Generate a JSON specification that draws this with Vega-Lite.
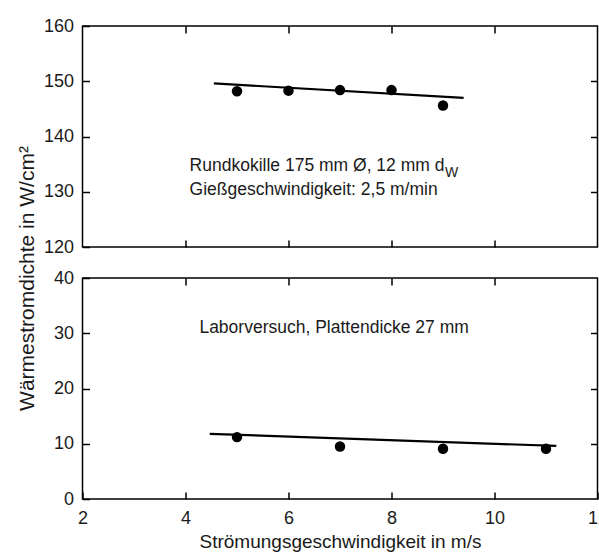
{
  "$schema": "https://vega.github.io/schema/vega-lite/v6.json",
  "padding": {"left": 14.5, "top": 16, "right": 0, "bottom": 5},
  "background": "white",
  "spacing": 31,
  "bounds": "flush",
  "datasets": {
    "topPoints": [
      {"v": 5, "q": 148.2},
      {"v": 6, "q": 148.3},
      {"v": 7, "q": 148.4},
      {"v": 8, "q": 148.4},
      {"v": 9, "q": 145.6}
    ],
    "topLine": [
      {"v": 4.55, "q": 149.6},
      {"v": 9.4, "q": 147.0}
    ],
    "topText": [
      {"v": 4.08, "q": 134.6, "t": "Rundkokille 175 mm Ø, 12 mm d"},
      {"v": 4.08, "q": 130.4, "t": "Gießgeschwindigkeit: 2,5 m/min"}
    ],
    "topSub": [
      {"v": 9.04, "q": 133.4, "t": "W"}
    ],
    "botPoints": [
      {"v": 5, "q": 11.2},
      {"v": 7, "q": 9.5},
      {"v": 9, "q": 9.1},
      {"v": 11, "q": 9.1}
    ],
    "botLine": [
      {"v": 4.47, "q": 11.8},
      {"v": 11.2, "q": 9.6}
    ],
    "botText": [
      {"v": 4.27, "q": 30.9, "t": "Laborversuch, Plattendicke 27 mm"}
    ]
  },
  "vconcat": [
    {
      "width": 515,
      "height": 221,
      "layer": [
        {
          "data": {"name": "topPoints"},
          "mark": {"type": "point", "filled": true, "color": "black", "opacity": 1, "size": 110},
          "encoding": {
            "x": {"field": "v", "type": "quantitative", "scale": {"domain": [2, 12]},
                  "axis": {"orient": "bottom", "labels": false, "title": null, "values": [4, 6, 8, 10]}},
            "y": {"field": "q", "type": "quantitative", "scale": {"domain": [120, 160]},
                  "axis": {"orient": "left", "title": null, "values": [120, 130, 140, 150, 160]}}
          }
        },
        {
          "data": {"name": "topLine"},
          "mark": {"type": "line", "color": "black", "strokeWidth": 2.2},
          "encoding": {
            "x": {"field": "v", "type": "quantitative",
                  "axis": {"orient": "top", "labels": false, "title": null, "values": [4, 6, 8, 10]}},
            "y": {"field": "q", "type": "quantitative",
                  "axis": {"orient": "right", "labels": false, "title": null, "values": [130, 140, 150]}}
          }
        },
        {
          "data": {"name": "topText"},
          "mark": {"type": "text", "align": "left", "baseline": "middle", "fontSize": 17.5, "font": "Liberation Sans", "color": "#1a1a1a"},
          "encoding": {
            "x": {"field": "v", "type": "quantitative", "axis": null},
            "y": {"field": "q", "type": "quantitative", "axis": null},
            "text": {"field": "t"}
          }
        },
        {
          "data": {"name": "topSub"},
          "mark": {"type": "text", "align": "left", "baseline": "middle", "fontSize": 14, "font": "Liberation Sans", "color": "#1a1a1a"},
          "encoding": {
            "x": {"field": "v", "type": "quantitative", "axis": null},
            "y": {"field": "q", "type": "quantitative", "axis": null},
            "text": {"field": "t"}
          }
        }
      ],
      "resolve": {"axis": {"x": "independent", "y": "independent"}}
    },
    {
      "width": 515,
      "height": 221,
      "layer": [
        {
          "data": {"name": "botPoints"},
          "mark": {"type": "point", "filled": true, "color": "black", "opacity": 1, "size": 110},
          "encoding": {
            "x": {"field": "v", "type": "quantitative", "scale": {"domain": [2, 12]},
                  "axis": {"orient": "bottom", "title": "Strömungsgeschwindigkeit in m/s", "titleFontSize": 19, "values": [2, 4, 6, 8, 10, 12], "labelFlush": false, "labelPadding": 17, "titlePadding": 5}},
            "y": {"field": "q", "type": "quantitative", "scale": {"domain": [0, 40]},
                  "axis": {"orient": "left", "title": "Wärmestromdichte in W/cm²", "titleFontSize": 21, "values": [0, 10, 20, 30, 40], "titleY": 0, "titleX": -55.5, "titleBaseline": "middle", "titleAlign": "center"}}
          }
        },
        {
          "data": {"name": "botLine"},
          "mark": {"type": "line", "color": "black", "strokeWidth": 2.2},
          "encoding": {
            "x": {"field": "v", "type": "quantitative",
                  "axis": {"orient": "top", "labels": false, "title": null, "values": [4, 6, 8, 10]}},
            "y": {"field": "q", "type": "quantitative",
                  "axis": {"orient": "right", "labels": false, "title": null, "values": [10, 20, 30]}}
          }
        },
        {
          "data": {"name": "botText"},
          "mark": {"type": "text", "align": "left", "baseline": "middle", "fontSize": 17.5, "font": "Liberation Sans", "color": "#1a1a1a"},
          "encoding": {
            "x": {"field": "v", "type": "quantitative", "axis": null},
            "y": {"field": "q", "type": "quantitative", "axis": null},
            "text": {"field": "t"}
          }
        }
      ],
      "resolve": {"axis": {"x": "independent", "y": "independent"}}
    }
  ],
  "config": {
    "font": "Liberation Sans",
    "view": {"stroke": "black", "strokeWidth": 1.5},
    "axis": {
      "domain": false,
      "grid": false,
      "tickColor": "black",
      "tickSize": -7,
      "tickWidth": 1.5,
      "labelColor": "#1a1a1a",
      "labelFontSize": 18,
      "labelPadding": 16,
      "titleColor": "#1a1a1a",
      "titleFontSize": 18,
      "titleFontWeight": "normal"
    }
  }
}
